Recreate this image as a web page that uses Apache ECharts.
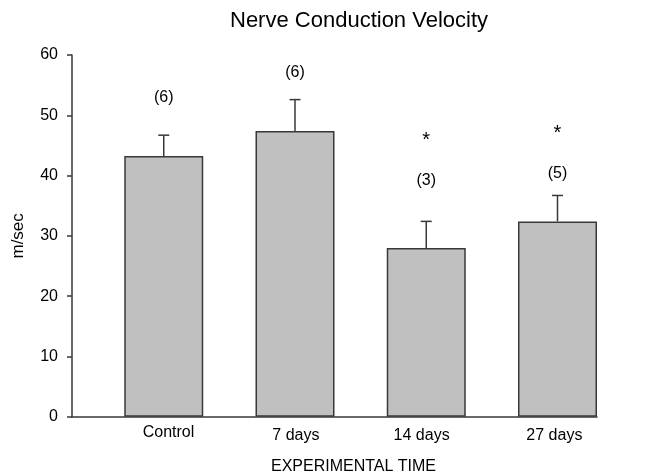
<!DOCTYPE html>
<html>
<head>
<meta charset="utf-8">
<script src="https://cdn.jsdelivr.net/npm/echarts@6/dist/echarts.min.js"></script>
<style>html,body{margin:0;padding:0;background:#fff}#c{width:648px;height:472px}</style>
</head>
<body>
<div id="c"></div>
<script>
// ---- data ----
const categories = ['Control', '7 days', '14 days', '27 days'];
const means      = [43.25, 47.4, 28.0, 32.4];
const errUpper   = [46.7, 52.6, 32.4, 36.7];      // mean + SEM
const nLabels    = ['(6)', '(6)', '(3)', '(5)'];
const nLabelAt   = [53.0, 57.1, 39.2, 40.3];      // data-units anchor of n labels
const sigLabels  = ['', '', '*', '*'];
const sigLabelAt = [null, null, 45.9, 46.9];
const yTicks     = [0, 10, 20, 30, 40, 50, 60];

// ---- style ----
const FONT = 'Liberation Sans, Arial, sans-serif';
const BAR_W = 79;
const INK = '#383838';
const LW = 1.5;
// category labels sit under the bars (which are right-aligned in each band)
const labelStyle = {
  'Control': { padding: [0, 0, 0, 61.7], lineHeight: 10 },
  '7 days':  { padding: [0, 0, 0, 54] },
  '14 days': { padding: [0, 0, 0, 43] },
  '27 days': { padding: [0, 0, 0, 46] }
};

const chart = echarts.init(document.getElementById('c'), null, { renderer: 'canvas' });

function barCenterX(api, idx) {
  const p = api.coord([idx, 0]);
  const band = api.size([1, 0])[0];
  return p[0] + band / 2 - BAR_W / 2;
}

chart.setOption({
  animation: false,
  backgroundColor: '#fff',
  title: {
    text: 'Nerve Conduction Velocity',
    left: 230, top: 10, padding: 0,
    textStyle: { fontFamily: FONT, fontSize: 22, fontWeight: 'normal', color: '#000' }
  },
  grid: { left: 72, right: 51, top: 55, height: 361.7, outerBoundsMode: 'none', containLabel: false },
  xAxis: {
    type: 'category',
    data: categories.map(c => ({ value: c, textStyle: labelStyle[c] })),
    boundaryGap: true,
    axisLine: { lineStyle: { color: INK, width: LW } },
    axisTick: { show: false },
    axisLabel: { fontFamily: FONT, fontSize: 16, color: '#000', margin: 11, lineHeight: 16 },
    name: 'EXPERIMENTAL TIME',
    nameLocation: 'middle',
    nameGap: 42,
    nameTextStyle: { fontFamily: FONT, fontSize: 16, color: '#000', padding: [0, 0, 0, 38] }
  },
  yAxis: {
    type: 'value',
    min: 0, max: 60, interval: 10,
    splitLine: { show: false },
    axisLine: { show: true, lineStyle: { color: INK, width: LW } },
    axisTick: { show: true, length: 5, lineStyle: { color: INK, width: LW } },
    axisLabel: { fontFamily: FONT, fontSize: 16, color: '#000', margin: 14,
                 formatter: v => yTicks.includes(v) ? String(v) : '' },
    name: 'm/sec',
    nameLocation: 'middle',
    nameGap: 45,
    nameTextStyle: { fontFamily: FONT, fontSize: 17, color: '#000' }
  },
  series: [
    { // spacer so that the bars sit at the right side of each band, as in the reference
      type: 'bar', data: categories.map(() => '-'), barWidth: BAR_W, barGap: '-33.86%',
      silent: true, itemStyle: { color: 'rgba(0,0,0,0)' }
    },
    {
      type: 'bar', data: means, barWidth: BAR_W, barGap: '-33.86%',
      itemStyle: { color: '#c0c0c0', borderColor: INK, borderWidth: LW }
    },
    {
      type: 'custom',
      data: means.map((m, i) => [i, m, errUpper[i]]),
      z: 5,
      renderItem: function (params, api) {
        const i = api.value(0);
        const cx = barCenterX(api, i);
        const yb = api.coord([i, api.value(1)])[1];
        const yt = api.coord([i, api.value(2)])[1];
        const cap = 5.5;
        return {
          type: 'group',
          children: [
            { type: 'line', shape: { x1: cx, y1: yb, x2: cx, y2: yt }, style: { stroke: INK, lineWidth: LW } },
            { type: 'line', shape: { x1: cx - cap, y1: yt, x2: cx + cap, y2: yt }, style: { stroke: INK, lineWidth: LW } }
          ]
        };
      }
    },
    {
      type: 'custom',
      data: categories.map((c, i) => [i, nLabelAt[i], sigLabelAt[i] == null ? 0 : sigLabelAt[i]]),
      z: 6,
      renderItem: function (params, api) {
        const i = params.dataIndex;
        const cx = barCenterX(api, i);
        const children = [{
          type: 'text',
          style: { text: nLabels[i], x: cx, y: api.coord([i, nLabelAt[i]])[1],
                   align: 'center', verticalAlign: 'middle',
                   fontFamily: FONT, fontSize: 16, fill: '#000' }
        }];
        if (sigLabels[i]) {
          children.push({
            type: 'text',
            style: { text: sigLabels[i], x: cx, y: api.coord([i, sigLabelAt[i]])[1],
                     align: 'center', verticalAlign: 'middle',
                     fontFamily: FONT, fontSize: 20, fill: '#000' }
          });
        }
        return { type: 'group', children: children };
      }
    }
  ]
});
</script>
</body>
</html>
